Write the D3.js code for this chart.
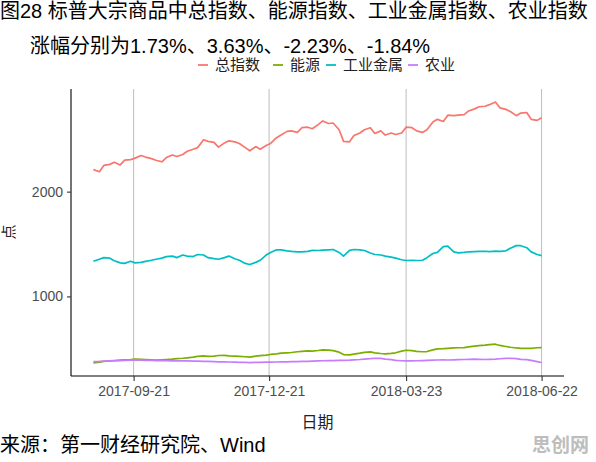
<!DOCTYPE html>
<html>
<head>
<meta charset="utf-8">
<script src="https://cdn.jsdelivr.net/npm/d3@7/dist/d3.min.js"></script>
<style>
  body { margin: 0; background: #fff; }
  svg { display: block; font-family: "Liberation Sans", "Noto Sans CJK SC", sans-serif; }
</style>
</head>
<body>
<svg id="chart" width="596" height="462"></svg>
<script>
"use strict";

var dates = [
  "2017-08-25", "2017-08-29", "2017-09-01", "2017-09-05", "2017-09-08", "2017-09-12", "2017-09-15", "2017-09-19",
  "2017-09-22", "2017-09-26", "2017-09-29", "2017-10-03", "2017-10-06", "2017-10-10", "2017-10-13", "2017-10-17",
  "2017-10-20", "2017-10-24", "2017-10-27", "2017-10-31", "2017-11-03", "2017-11-07", "2017-11-10", "2017-11-14",
  "2017-11-17", "2017-11-21", "2017-11-24", "2017-11-28", "2017-12-01", "2017-12-05", "2017-12-08", "2017-12-12",
  "2017-12-15", "2017-12-19", "2017-12-22", "2017-12-26", "2017-12-29", "2018-01-02", "2018-01-05", "2018-01-09",
  "2018-01-12", "2018-01-16", "2018-01-19", "2018-01-23", "2018-01-26", "2018-01-30", "2018-02-02", "2018-02-06",
  "2018-02-09", "2018-02-13", "2018-02-16", "2018-02-20", "2018-02-23", "2018-02-27", "2018-03-02", "2018-03-06",
  "2018-03-09", "2018-03-13", "2018-03-16", "2018-03-20", "2018-03-23", "2018-03-27", "2018-03-30", "2018-04-03",
  "2018-04-06", "2018-04-10", "2018-04-13", "2018-04-17", "2018-04-20", "2018-04-24", "2018-04-27", "2018-05-01",
  "2018-05-04", "2018-05-08", "2018-05-11", "2018-05-15", "2018-05-18", "2018-05-22", "2018-05-25", "2018-05-29",
  "2018-06-01", "2018-06-05", "2018-06-08", "2018-06-12", "2018-06-15", "2018-06-19", "2018-06-22"
];

// 总指数
var total = [
  2210, 2190, 2250, 2260, 2280, 2255, 2300, 2305, 2320, 2345, 2330, 2315, 2300, 2285, 2325, 2350,
  2335, 2355, 2385, 2405, 2420, 2495, 2480, 2470, 2425, 2465, 2485, 2475, 2460, 2420, 2390, 2430,
  2405, 2440, 2460, 2515, 2540, 2575, 2580, 2565, 2610, 2615, 2600, 2640, 2675, 2650, 2655, 2590,
  2480, 2475, 2535, 2560, 2590, 2610, 2555, 2580, 2540, 2560, 2545, 2560, 2615, 2610, 2580, 2565,
  2590, 2665, 2690, 2670, 2730, 2725, 2730, 2735, 2770, 2790, 2810, 2815, 2830, 2855, 2800, 2785,
  2765, 2725, 2750, 2755, 2690, 2680, 2705
];

// 能源
var energy = [
  365, 372, 380, 385, 388, 392, 395, 398, 402, 400, 397, 394, 392, 395, 398, 402,
  406, 410, 414, 420, 428, 432, 428, 430, 436, 438, 432, 430, 428, 424, 420, 430,
  435, 440, 446, 452, 458, 462, 465, 472, 476, 480, 478, 484, 490, 488, 482, 468,
  445, 442, 450, 458, 466, 470, 462, 455, 452, 456, 462, 478, 486, 482, 476, 472,
  474, 490, 500, 502, 505, 508, 510, 512, 518, 526, 530, 535, 540, 544, 532, 522,
  515, 508, 505, 504, 505, 510, 512
];

// 工业金属
var metals = [
  1335, 1355, 1370, 1365, 1340, 1320, 1315, 1335, 1320, 1325, 1335, 1345, 1355, 1365, 1380, 1385,
  1370, 1395, 1385, 1380, 1400, 1395, 1370, 1360, 1355, 1370, 1385, 1360, 1345, 1315, 1305, 1325,
  1345, 1395, 1420, 1445, 1445, 1435, 1430, 1425, 1425, 1430, 1440, 1438, 1442, 1445, 1448, 1420,
  1385, 1440, 1448, 1445, 1438, 1415, 1400, 1395, 1385, 1375, 1365, 1350, 1343, 1345, 1343, 1345,
  1370, 1410, 1420, 1475, 1480, 1425, 1415, 1420, 1426, 1428, 1430, 1431, 1428, 1432, 1430, 1435,
  1460, 1485, 1484, 1465, 1425, 1400, 1390
];

// 农业
var agri = [
  378, 380, 383, 385, 386, 388, 390, 392, 393, 392, 390, 389, 388, 387, 386, 385,
  386, 385, 384, 383, 382, 380, 380, 378, 376, 375, 374, 372, 371, 370, 369, 370,
  371, 372, 373, 374, 375, 376, 378, 378, 380, 381, 382, 384, 386, 387, 388, 390,
  390, 392, 395, 398, 402, 406, 410, 408, 402, 396, 390, 386, 384, 385, 386, 388,
  390, 392, 393, 394, 393, 395, 396, 398, 400, 402, 400, 398, 400, 402, 405, 408,
  410, 406, 400, 396, 390, 378, 369
];

var seriesNames = ["总指数", "能源", "工业金属", "农业"];
var seriesColors = ["#F8766D", "#7CAE00", "#00BFC4", "#C77CFF"];
var xTickLabels = ["2017-09-21", "2017-12-21", "2018-03-23", "2018-06-22"];
var yTicks = [1000, 2000];

var titleLine1 = "图28 标普大宗商品中总指数、能源指数、工业金属指数、农业指数";
var titleLine2 = "涨幅分别为1.73%、3.63%、-2.23%、-1.84%";
var sourceText = "来源：第一财经研究院、Wind";

var parse = d3.timeParse("%Y-%m-%d");
var xs = dates.map(parse);
var allSeries = [total, energy, metals, agri];

var plotLeft = 71, plotRight = 564, plotTop = 89, plotBottom = 376;

var svg = d3.select("#chart");

// ggplot-like 5% expansion
var x0 = d3.min(xs), x1 = d3.max(xs);
var xPad = (x1 - x0) * 0.05;
var x = d3.scaleTime()
  .domain([new Date(+x0 - xPad), new Date(+x1 + xPad)])
  .range([plotLeft, plotRight]);

var yMin = d3.min(allSeries, function (s) { return d3.min(s); });
var yMax = d3.max(allSeries, function (s) { return d3.max(s); });
var yPad = (yMax - yMin) * 0.05;
var y = d3.scaleLinear()
  .domain([yMin - yPad, yMax + yPad])
  .range([plotBottom, plotTop]);

var xTickDates = xTickLabels.map(parse);

// vertical grid lines
svg.append("g").selectAll("line").data(xTickDates).enter().append("line")
  .attr("x1", function (d) { return x(d); })
  .attr("x2", function (d) { return x(d); })
  .attr("y1", plotTop)
  .attr("y2", plotBottom)
  .attr("stroke", "#BDBDBD")
  .attr("stroke-width", 1);

// lines
var line = d3.line()
  .x(function (d, i) { return x(xs[i]); })
  .y(function (d) { return y(d); });

svg.append("g").selectAll("path").data(allSeries).enter().append("path")
  .attr("d", line)
  .attr("fill", "none")
  .attr("stroke", function (d, i) { return seriesColors[i]; })
  .attr("stroke-width", 1.7)
  .attr("stroke-linejoin", "round");

// axes
var xAxis = svg.append("g")
  .attr("transform", "translate(0," + plotBottom + ")")
  .call(d3.axisBottom(x).tickValues(xTickDates).tickFormat(d3.timeFormat("%Y-%m-%d")).tickSize(5).tickPadding(5));

var yAxis = svg.append("g")
  .attr("transform", "translate(" + plotLeft + ",0)")
  .call(d3.axisLeft(y).tickValues(yTicks).tickFormat(d3.format("d")).tickSize(4).tickPadding(4));

[xAxis, yAxis].forEach(function (a) {
  a.select(".domain").attr("stroke", "#000").attr("stroke-width", 1.1);
  a.selectAll(".tick line").attr("stroke", "#333").attr("stroke-width", 1.1);
  a.selectAll(".tick text")
    .attr("fill", "#4D4D4D")
    .style("font-size", "14px")
    .style("font-family", "'Liberation Sans', sans-serif");
});
xAxis.select(".domain").attr("d", "M" + plotLeft + ",0H" + plotRight);
yAxis.select(".domain").attr("d", "M0," + plotTop + "V" + plotBottom);

// axis titles
svg.append("text")
  .attr("x", (plotLeft + plotRight) / 2)
  .attr("y", 428)
  .attr("text-anchor", "middle")
  .attr("fill", "#222")
  .style("font-size", "16px")
  .text("日期");

svg.append("text")
  .attr("transform", "translate(14,232) rotate(-90)")
  .attr("text-anchor", "middle")
  .attr("fill", "#222")
  .style("font-size", "15px")
  .text("点");

// title
svg.append("text")
  .attr("x", 0)
  .attr("y", 18)
  .attr("fill", "#000")
  .style("font-size", "20px")
  .text(titleLine1);

svg.append("text")
  .attr("x", 30)
  .attr("y", 53)
  .attr("fill", "#000")
  .style("font-size", "20px")
  .text(titleLine2);

// legend
var legendX = [198, 273, 326, 408];
var legend = svg.append("g").selectAll("g").data(seriesNames).enter().append("g")
  .attr("transform", function (d, i) { return "translate(" + legendX[i] + ",65)"; });

legend.append("line")
  .attr("x1", 0).attr("x2", 10)
  .attr("y1", 0).attr("y2", 0)
  .attr("stroke", function (d, i) { return seriesColors[i]; })
  .attr("stroke-width", 1.8);

legend.append("text")
  .attr("x", 17)
  .attr("y", 5)
  .attr("fill", "#222")
  .style("font-size", "15px")
  .text(function (d) { return d; });

// source
svg.append("text")
  .attr("x", 0)
  .attr("y", 452)
  .attr("fill", "#000")
  .style("font-size", "20px")
  .text(sourceText);

// watermark
svg.append("text")
  .attr("x", 589)
  .attr("y", 452)
  .attr("text-anchor", "end")
  .attr("fill", "#BDBDBD")
  .style("font-size", "19px")
  .style("font-weight", "bold")
  .text("思创网");
</script>
</body>
</html>
